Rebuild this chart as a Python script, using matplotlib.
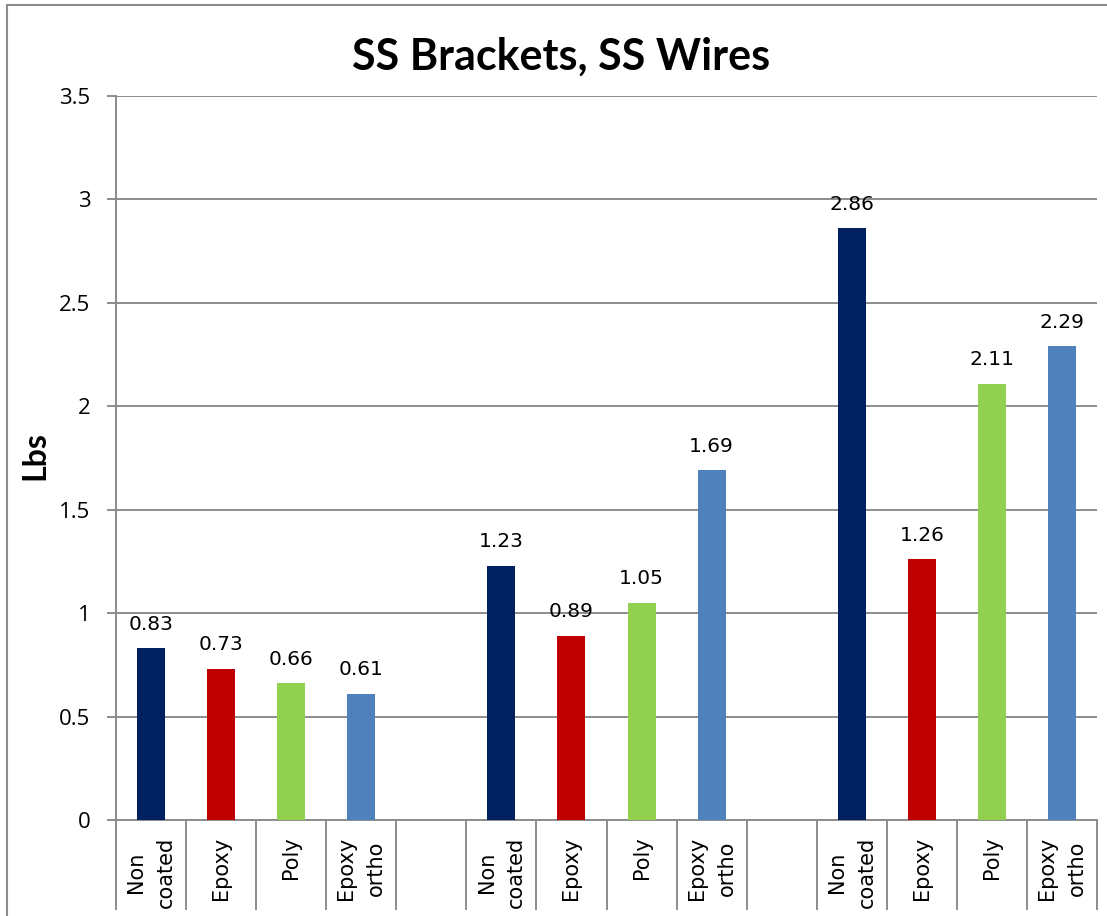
import numpy as np
import matplotlib
matplotlib.use("Agg")
import matplotlib.pyplot as plt
from matplotlib.patches import Rectangle

# chart data
coatings = ["Non\ncoated", "Epoxy", "Poly", "Epoxy\northo"]
group1 = [0.83, 0.73, 0.66, 0.61]
group2 = [1.23, 0.89, 1.05, 1.69]
group3 = [2.86, 1.26, 2.11, 2.29]
bar_colors = ["#002060", "#C00000", "#92D050", "#4F81BD"]
yticks = [0, 0.5, 1, 1.5, 2, 2.5, 3, 3.5]
ytick_labels = ["0", "0.5", "1", "1.5", "2", "2.5", "3", "3.5"]

GRAY = "#8c8c8c"
W, H = 1107, 916

fig = plt.figure(figsize=(W / 100, H / 100), dpi=100)
ax = fig.add_axes([116 / W, 1 - 820 / H, (1097 - 116) / W, (820 - 96) / H])

# category slots: 4 bars, one blank slot, repeated
groups = [group1, group2, group3]
labels = []
for g, vals in enumerate(groups):
    xs = np.arange(4) + 5 * g
    ax.bar(xs, vals, width=0.4, color=bar_colors, zorder=3)
    for x, v in zip(xs, vals):
        ax.annotate(f"{v:.2f}", (x, v), xytext=(0, 13.5), textcoords="offset points",
                    ha="center", va="baseline", fontsize=14.5, family="DejaVu Sans",
                    color="black", zorder=4)
    labels += coatings
    if g < 2:
        labels.append("")

ax.set_xlim(-0.5, 13.5)
ax.set_ylim(0, 3.5)

# category separators as long major ticks, labels on minor ticks
ax.set_xticks(np.arange(-0.5, 14, 1))
ax.set_xticklabels([])
ax.tick_params(axis="x", which="major", length=65, width=1.4, color=GRAY, direction="out")
ax.set_xticks(np.arange(14), minor=True)
ax.set_xticklabels(labels, minor=True, rotation=90, fontsize=15, family="DejaVu Sans")
ax.tick_params(axis="x", which="minor", length=0, pad=12)
for t in ax.get_xticklabels(minor=True):
    t.set_multialignment("center")
    t.set_linespacing(1.6)

ax.set_yticks(yticks)
ax.set_yticklabels(ytick_labels, fontsize=16, family="Open Sans")
ax.tick_params(axis="y", length=6.5, width=1.4, color=GRAY, pad=12)

ax.grid(axis="y", color=GRAY, linewidth=1.4, zorder=0)
ax.set_axisbelow(True)
for side in ["top", "right"]:
    ax.spines[side].set_visible(False)
for side in ["left", "bottom"]:
    ax.spines[side].set_color(GRAY)
    ax.spines[side].set_linewidth(1.4)

fig.text(561 / W, 1 - 70 / H, "SS Brackets, SS Wires", ha="center", va="baseline",
         fontsize=31, fontweight="bold", family="Lato")
fig.text(35 / W, 1 - 456 / H, "Lbs", ha="center", va="center", rotation=90,
         fontsize=23, fontweight="bold", family="Lato")

# chart area border, cropped at right and bottom
fig.patches.append(Rectangle((7 / W, -0.1), 2, 1 - 5 / H + 0.1, transform=fig.transFigure,
                             facecolor="none", edgecolor=GRAY, linewidth=1.5))

fig.savefig("out.png", dpi=100)
